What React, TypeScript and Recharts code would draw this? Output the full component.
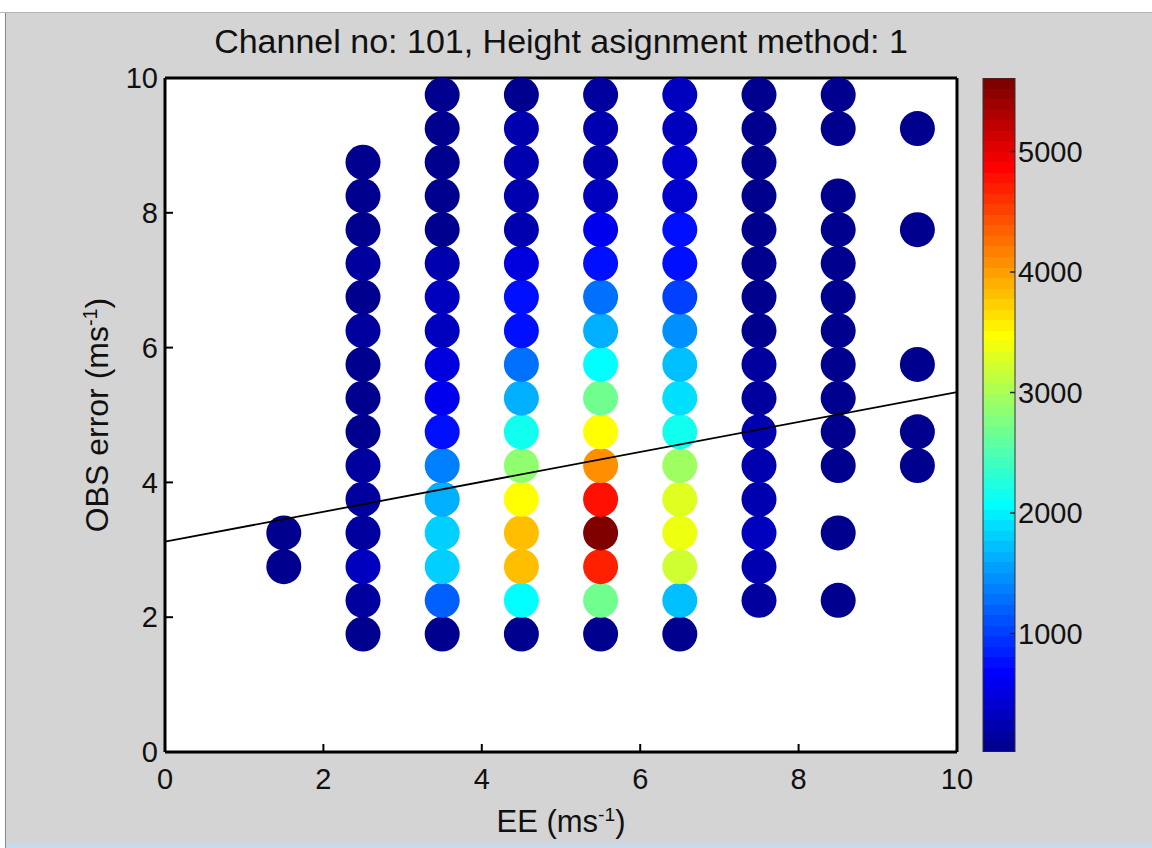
import React from 'react';
import { ScatterChart, Scatter, XAxis, YAxis, CartesianGrid, BarChart, Bar } from 'recharts';

// ---- data ----
const eeBins = [1.5, 2.5, 3.5, 4.5, 5.5, 6.5, 7.5, 8.5, 9.5];
const obsBins = [1.75, 2.25, 2.75, 3.25, 3.75, 4.25, 4.75, 5.25, 5.75, 6.25, 6.75, 7.25, 7.75, 8.25, 8.75, 9.25, 9.75];

// counts per OBS bin (1.75 -> 9.75), null = no point
const countsEE15 = [null, null, 80, 70, null, null, null, null, null, null, null, null, null, null, null, null, null];
const countsEE25 = [80, 180, 300, 130, 150, 120, 60, 70, 90, 110, 100, 110, 90, 90, 60, null, null];
const countsEE35 = [80, 1200, 1820, 1820, 1620, 1400, 780, 620, 520, 350, 330, 200, 70, 80, 100, 80, 60];
const countsEE45 = [90, 2100, 3850, 3850, 3500, 2900, 2170, 1620, 1320, 760, 750, 520, 260, 250, 200, 200, 100];
const countsEE55 = [80, 2700, 4700, 5600, 4780, 4090, 3500, 2720, 2050, 1620, 1300, 800, 620, 300, 220, 220, 150];
const countsEE65 = [90, 1680, 3220, 3420, 3300, 2950, 2180, 1880, 1760, 1430, 1050, 800, 780, 450, 400, 320, 300];
const countsEE75 = [null, 120, 260, 280, 250, 240, 230, 120, 110, 100, 60, 100, 100, 80, 80, 100, 90];
const countsEE85 = [null, 70, null, 60, null, 70, 80, 60, 70, 60, 70, 80, 60, 70, null, 60, 70];
const countsEE95 = [null, null, null, null, null, 40, 40, null, 50, null, null, null, 40, null, null, 40, null];

const countColumns = [countsEE15, countsEE25, countsEE35, countsEE45, countsEE55, countsEE65, countsEE75, countsEE85, countsEE95];

const fitLine = [
  { ee: 0, obs: 3.12 },
  { ee: 10, obs: 5.34 },
];

const xTicks = [0, 2, 4, 6, 8, 10];
const yTicks = [0, 2, 4, 6, 8, 10];
const cbTicks = [1000, 2000, 3000, 4000, 5000];
const CMIN = 17;
const CMAX = 5610;

const titleText = 'Channel no: 101, Height asignment method: 1';

// ---- MATLAB jet(64) colormap ----
const JET: string[] = (() => {
  const n = 16;
  const u: number[] = [];
  for (let k = 1; k <= n; k++) u.push(k / n);
  for (let k = 0; k < n - 1; k++) u.push(1);
  for (let k = n; k >= 1; k--) u.push(k / n);
  const pick = (i: number) => (i >= 1 && i <= u.length ? u[i - 1] : 0);
  const out: string[] = [];
  for (let row = 1; row <= 64; row++) {
    const r = pick(row - 24);
    const g = pick(row - 8);
    const b = pick(row + 8);
    const h = (v: number) => Math.round(v * 255).toString(16).padStart(2, '0');
    out.push('#' + h(r) + h(g) + h(b));
  }
  return out;
})();

const jetColor = (v: number) => {
  let idx = Math.floor(((v - CMIN) / (CMAX - CMIN)) * 64);
  if (idx < 0) idx = 0;
  if (idx > 63) idx = 63;
  return JET[idx];
};

const points: { ee: number; obs: number; count: number }[] = [];
countColumns.forEach((col, i) => {
  col.forEach((c, j) => {
    if (c !== null) points.push({ ee: eeBins[i], obs: obsBins[j], count: c as number });
  });
});

const FONT = '"Liberation Sans", Arial, Helvetica, sans-serif';
const BG = '#d4d4d4';

const Dot = (props: any) => {
  const { cx, cy, payload } = props;
  if (cx == null || cy == null) return <g />;
  return <circle cx={cx} cy={cy} r={17.5} fill={jetColor(payload.count)} />;
};

const NoDot = () => <g />;

export default function App() {
  const stops: React.ReactNode[] = [];
  JET.forEach((c, i) => {
    stops.push(<stop key={'a' + i} offset={`${(i / 64) * 100}%`} stopColor={c} />);
    stops.push(<stop key={'b' + i} offset={`${((i + 1) / 64) * 100}%`} stopColor={c} />);
  });

  const tickStyle = { fontSize: 29, fontFamily: FONT, fill: '#111' };

  return (
    <div style={{ position: 'absolute', left: 0, top: 0, width: 1152, height: 848, background: '#fff', overflow: 'hidden' }}>
      {/* figure frame */}
      <div style={{ position: 'absolute', left: 0, top: 12, width: 1152, height: 1, background: '#b8b8b8' }} />
      <div style={{ position: 'absolute', left: 5, top: 13, width: 1, height: 835, background: '#7d8a99' }} />
      <div style={{ position: 'absolute', left: 6, top: 13, width: 1146, height: 830, background: BG }} />
      <div style={{ position: 'absolute', left: 6, top: 843, width: 1146, height: 5, background: '#c9d9ec' }} />

      <div style={{ position: 'absolute', left: 0, top: 0 }}>
        <ScatterChart width={1152} height={848} margin={{ top: 68, right: 185, bottom: 36, left: 65 }}>
          <CartesianGrid xAxisId="b" yAxisId="l" horizontal={false} vertical={false} fill="#ffffff" />
          <Scatter data={points} dataKey="obs" xAxisId="b" yAxisId="l" shape={Dot} isAnimationActive={false} />
          <Scatter
            data={fitLine}
            dataKey="obs"
            xAxisId="b"
            yAxisId="l"
            shape={NoDot}
            line={{ stroke: '#000', strokeWidth: 1.8 }}
            isAnimationActive={false}
          />
          <XAxis
            xAxisId="b"
            type="number"
            dataKey="ee"
            domain={[0, 10]}
            ticks={xTicks}
            orientation="bottom"
            height={60}
            tickSize={-8}
            tickMargin={24}
            tick={tickStyle}
            axisLine={{ stroke: '#000', strokeWidth: 3 }}
            tickLine={{ stroke: '#000', strokeWidth: 2 }}
            allowDataOverflow
          />
          <XAxis
            xAxisId="t"
            type="number"
            domain={[0, 10]}
            ticks={xTicks}
            orientation="top"
            height={10}
            tickSize={-8}
            tick={false}
            axisLine={{ stroke: '#000', strokeWidth: 3 }}
            tickLine={{ stroke: '#000', strokeWidth: 2 }}
            allowDataOverflow
          />
          <YAxis
            yAxisId="l"
            type="number"
            dataKey="obs"
            domain={[0, 10]}
            ticks={yTicks}
            width={100}
            tickSize={-8}
            tickMargin={15}
            tick={tickStyle}
            axisLine={{ stroke: '#000', strokeWidth: 3 }}
            tickLine={{ stroke: '#000', strokeWidth: 2 }}
            allowDataOverflow
          />
          <YAxis
            yAxisId="r"
            type="number"
            orientation="right"
            domain={[0, 10]}
            ticks={yTicks}
            width={10}
            tickSize={-8}
            tick={false}
            axisLine={{ stroke: '#000', strokeWidth: 3 }}
            tickLine={{ stroke: '#000', strokeWidth: 2 }}
            allowDataOverflow
          />
        </ScatterChart>
      </div>

      <div style={{ position: 'absolute', left: 0, top: 0 }}>
        <BarChart
          width={1152}
          height={848}
          data={[{ name: 'cb', top: CMAX }]}
          margin={{ top: 78, right: 37, bottom: 96, left: 973 }}
          barCategoryGap={0}
        >
          <defs>
            <linearGradient id="jetGrad" x1="0" y1="1" x2="0" y2="0">
              {stops}
            </linearGradient>
          </defs>
          <XAxis dataKey="name" hide />
          <Bar dataKey="top" yAxisId="l" fill="url(#jetGrad)" stroke="#333" strokeWidth={1} isAnimationActive={false} />
          <YAxis
            yAxisId="l"
            type="number"
            orientation="left"
            domain={[CMIN, CMAX]}
            ticks={cbTicks}
            width={10}
            tickSize={-5}
            tick={false}
            axisLine={false}
            tickLine={{ stroke: '#222', strokeWidth: 1.5 }}
            allowDataOverflow
          />
          <YAxis
            yAxisId="r"
            type="number"
            orientation="right"
            domain={[CMIN, CMAX]}
            ticks={cbTicks}
            width={100}
            tickSize={-5}
            tickMargin={8}
            tick={tickStyle}
            axisLine={false}
            tickLine={{ stroke: '#222', strokeWidth: 1.5 }}
            allowDataOverflow
          />
        </BarChart>
      </div>

      {/* title and axis labels */}
      <div
        style={{
          position: 'absolute',
          left: 161,
          width: 800,
          top: 24,
          textAlign: 'center',
          fontFamily: FONT,
          fontSize: 34,
          lineHeight: 1,
          color: '#111',
          whiteSpace: 'nowrap',
        }}
      >
        {titleText}
      </div>
      <div
        style={{
          position: 'absolute',
          left: 361,
          width: 400,
          top: 806,
          textAlign: 'center',
          fontFamily: FONT,
          fontSize: 31,
          lineHeight: 1,
          color: '#111',
          whiteSpace: 'nowrap',
        }}
      >
        EE (ms<sup style={{ fontSize: '0.62em', verticalAlign: '0.55em', lineHeight: 0 }}>-1</sup>)
      </div>
      <div
        style={{
          position: 'absolute',
          left: 97 - 200,
          width: 400,
          top: 415 - 16,
          textAlign: 'center',
          fontFamily: FONT,
          fontSize: 32,
          lineHeight: 1,
          color: '#111',
          whiteSpace: 'nowrap',
          transform: 'rotate(-90deg)',
          transformOrigin: '200px 16px',
        }}
      >
        OBS error (ms<sup style={{ fontSize: '0.62em', verticalAlign: '0.55em', lineHeight: 0 }}>-1</sup>)
      </div>
    </div>
  );
}
